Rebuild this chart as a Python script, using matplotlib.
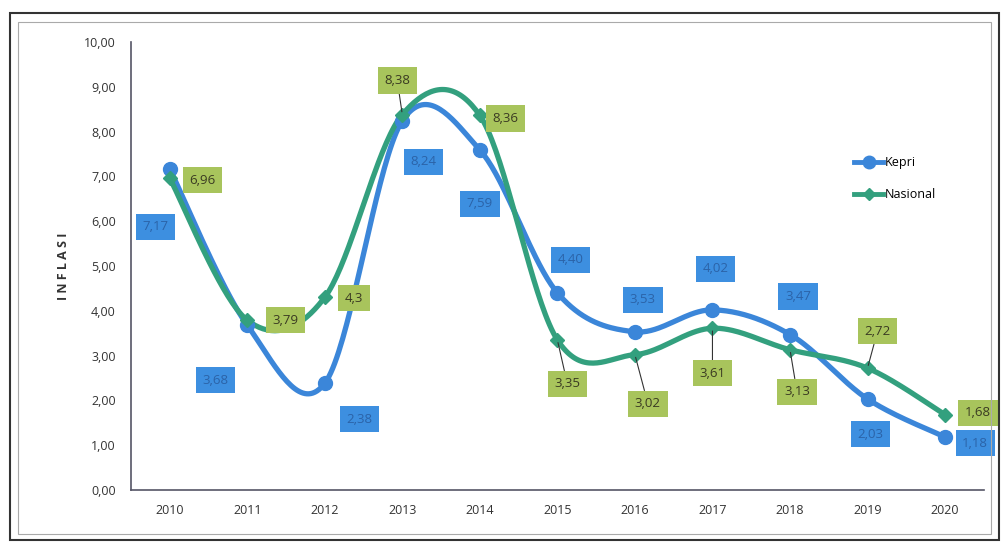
import numpy as np
import matplotlib.pyplot as plt
from matplotlib.patches import Rectangle

years = ['2010', '2011', '2012', '2013', '2014', '2015', '2016', '2017', '2018', '2019', '2020']
kepri = [7.17, 3.68, 2.38, 8.24, 7.59, 4.40, 3.53, 4.02, 3.47, 2.03, 1.18]
nasional = [6.96, 3.79, 4.3, 8.38, 8.36, 3.35, 3.02, 3.61, 3.13, 2.72, 1.68]
kepri_text = ['7,17', '3,68', '2,38', '8,24', '7,59', '4,40', '3,53', '4,02', '3,47', '2,03', '1,18']
nasional_text = ['6,96', '3,79', '4,3', '8,38', '8,36', '3,35', '3,02', '3,61', '3,13', '2,72', '1,68']

# label offsets in pixels (dx right, dy up)
kepri_off = [(-14, -58), (-32, -55), (35, -36), (21, -41), (0, -54), (13, 33),
             (8, 32), (3, 41), (8, 38), (3, -35), (30, -6)]
nas_off = [(33, -2), (38, 0), (29, -1), (-5, 34), (26, -3), (10, -44),
           (13, -49), (0, -45), (7, -42), (10, 37), (33, 2)]
nas_leader = [False, False, False, True, False, True, True, True, True, True, False]

BLUE = '#3b86d9'
GREEN = '#33a07e'
BLUE_BOX = '#3d8fe0'
GREEN_BOX = '#a8c45c'


def smooth(y, n=40):
    # excel-like smoothed line (catmull-rom bezier)
    x = np.arange(len(y), dtype=float)
    y = np.asarray(y, dtype=float)
    xs, ys = [], []
    for i in range(len(y) - 1):
        p0 = np.array([x[max(i - 1, 0)], y[max(i - 1, 0)]])
        p1 = np.array([x[i], y[i]])
        p2 = np.array([x[i + 1], y[i + 1]])
        p3 = np.array([x[min(i + 2, len(y) - 1)], y[min(i + 2, len(y) - 1)]])
        c1 = p1 + (p2 - p0) / 6
        c2 = p2 - (p3 - p1) / 6
        t = np.linspace(0, 1, n)[:, None]
        b = (1 - t) ** 3 * p1 + 3 * (1 - t) ** 2 * t * c1 + 3 * (1 - t) * t ** 2 * c2 + t ** 3 * p2
        xs.extend(b[:, 0])
        ys.extend(b[:, 1])
    return np.array(xs), np.array(ys)


plt.rcParams['font.family'] = ['Open Sans', 'DejaVu Sans']
fig = plt.figure(figsize=(10.07, 5.45), dpi=100)
ax = fig.add_axes([0.130, 0.101, 0.847, 0.822])

x = np.arange(len(years))
sx, sy = smooth(kepri)
ax.plot(sx, sy, color=BLUE, lw=3.8, zorder=3)
ax.plot(x, kepri, 'o', color=BLUE, ms=10, zorder=4)
sx, sy = smooth(nasional)
ax.plot(sx, sy, color=GREEN, lw=3.8, zorder=3)
ax.plot(x, nasional, 'D', color=GREEN, ms=7, zorder=4)

ax.plot([], [], '-o', color=BLUE, lw=3.5, ms=9, label='Kepri')
ax.plot([], [], '-D', color=GREEN, lw=3.5, ms=6, label='Nasional')
ax.legend(loc='upper left', bbox_to_anchor=(0.835, 0.77), frameon=False,
          handlelength=2.3, handletextpad=0.1, labelspacing=1.5, fontsize=9)

for i in range(len(years)):
    dx, dy = kepri_off[i]
    ax.annotate(kepri_text[i], (x[i], kepri[i]), xytext=(dx * 0.72, dy * 0.72),
                textcoords='offset points', ha='center', va='center', fontsize=9.5,
                color='#2b63a8', zorder=5,
                bbox=dict(boxstyle='square,pad=0.5', fc=BLUE_BOX, ec='none'))
    dx, dy = nas_off[i]
    ax.annotate(nasional_text[i], (x[i], nasional[i]), xytext=(dx * 0.72, dy * 0.72),
                textcoords='offset points', ha='center', va='center', fontsize=9.5,
                color='#3a3a22', zorder=5,
                bbox=dict(boxstyle='square,pad=0.5', fc=GREEN_BOX, ec='none'),
                arrowprops=dict(arrowstyle='-', color='#333333', lw=0.8, shrinkA=0, shrinkB=2)
                if nas_leader[i] else None)

ax.set_xlim(-0.5, 10.5)
ax.set_ylim(0, 10)
ax.set_xticks(x)
ax.set_xticklabels(years)
yt = np.arange(0, 11)
ax.set_yticks(yt)
ax.set_yticklabels(['%d,00' % v for v in yt])
ax.tick_params(length=0, labelsize=9, colors='#333333')
ax.tick_params(axis='y', pad=11)
ax.tick_params(axis='x', pad=10)
for s in ['top', 'right']:
    ax.spines[s].set_visible(False)
for s in ['left', 'bottom']:
    ax.spines[s].set_color('#555566')
    ax.spines[s].set_linewidth(1.2)
ax.set_ylabel('I N F L A S I', fontsize=9, fontweight='bold', color='#333333', labelpad=10)

fig.patches.append(Rectangle((0.010, 0.009), 0.982, 0.968, transform=fig.transFigure,
                             fill=False, ec='#333333', lw=1.5))
fig.patches.append(Rectangle((0.018, 0.02), 0.966, 0.94, transform=fig.transFigure,
                             fill=False, ec='#aaaaaa', lw=0.8))

plt.savefig('out.png', dpi=100)
